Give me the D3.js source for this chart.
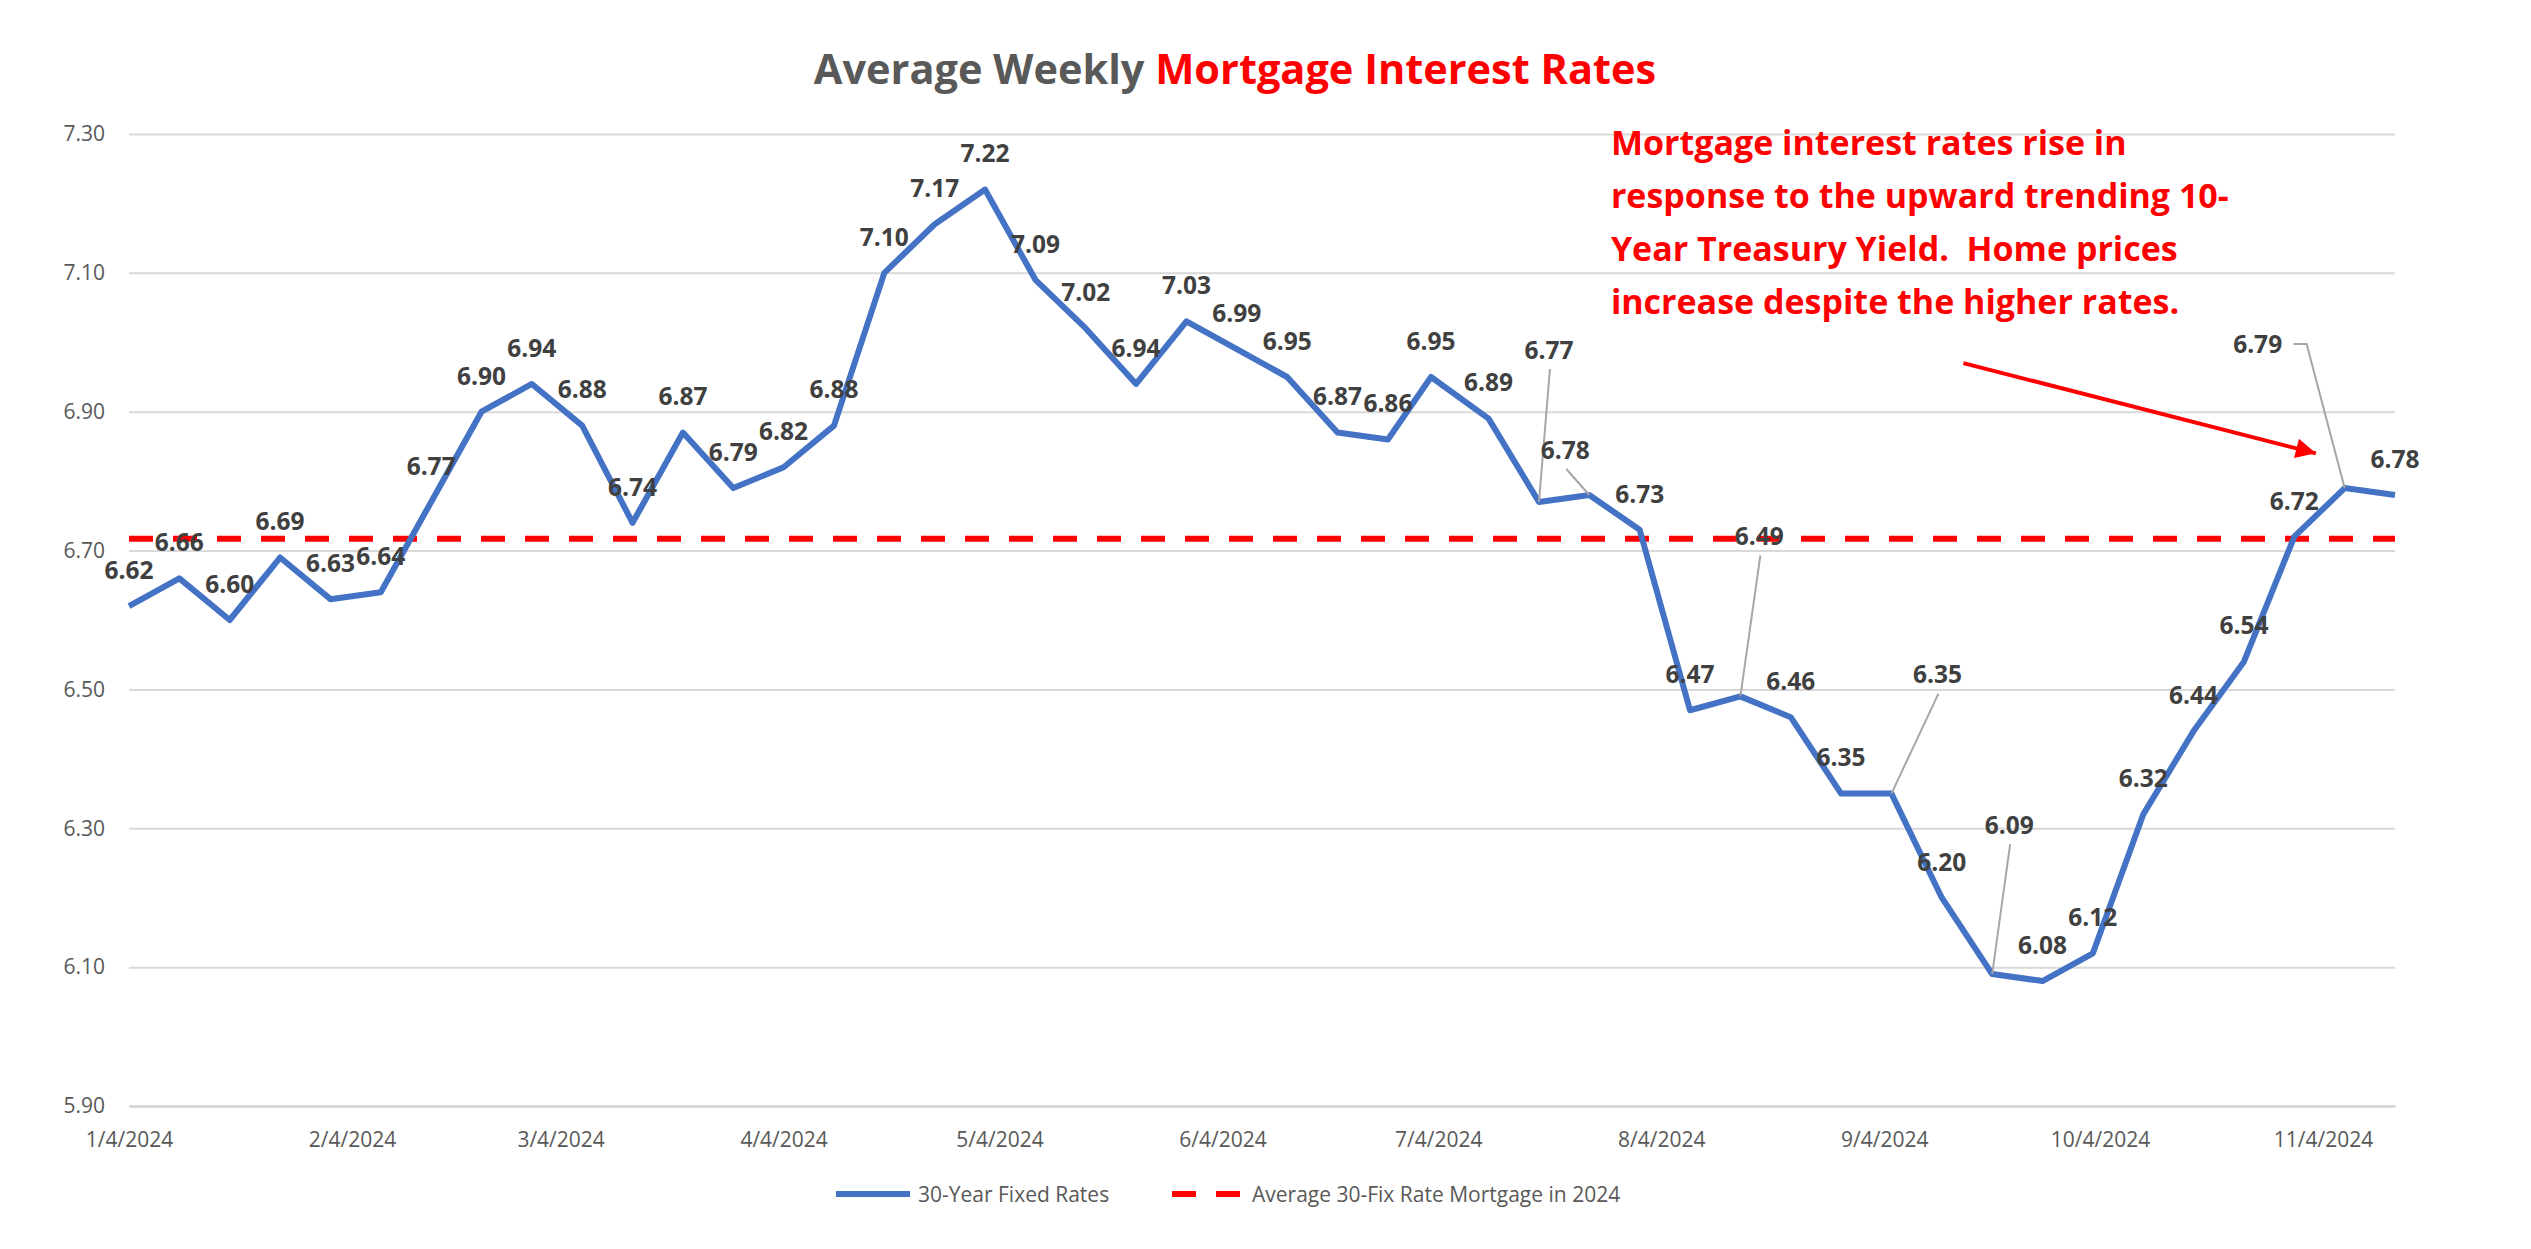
<!DOCTYPE html>
<html>
<head>
<meta charset="utf-8">
<script src="https://cdn.jsdelivr.net/npm/d3@7"></script>
<style>
  body { margin: 0; background: #fff; }
  text { font-family: "Open Sans", "Noto Sans", sans-serif; }
</style>
</head>
<body>
<script>
// weekly Freddie Mac 30-yr fixed, 2024
var weekDates = ["1/4/2024", "1/11/2024", "1/18/2024", "1/25/2024", "2/1/2024", "2/8/2024",
  "2/15/2024", "2/22/2024", "2/29/2024", "3/7/2024", "3/14/2024", "3/21/2024", "3/28/2024",
  "4/4/2024", "4/11/2024", "4/18/2024", "4/25/2024", "5/2/2024", "5/9/2024", "5/16/2024",
  "5/23/2024", "5/30/2024", "6/6/2024", "6/13/2024", "6/20/2024", "6/27/2024", "7/3/2024",
  "7/11/2024", "7/18/2024", "7/25/2024", "8/1/2024", "8/8/2024", "8/15/2024", "8/22/2024",
  "8/29/2024", "9/5/2024", "9/12/2024", "9/19/2024", "9/26/2024", "10/3/2024", "10/10/2024",
  "10/17/2024", "10/24/2024", "10/31/2024", "11/7/2024", "11/14/2024"];

var rates = [6.62, 6.66, 6.60, 6.69, 6.63, 6.64, 6.77, 6.90, 6.94, 6.88, 6.74, 6.87, 6.79,
  6.82, 6.88, 7.10, 7.17, 7.22, 7.09, 7.02, 6.94, 7.03, 6.99, 6.95, 6.87, 6.86, 6.95,
  6.89, 6.77, 6.78, 6.73, 6.47, 6.49, 6.46, 6.35, 6.35, 6.20, 6.09, 6.08, 6.12, 6.32,
  6.44, 6.54, 6.72, 6.79, 6.78];

var avgRate = 6.717;

var xTickLabels = ["1/4/2024", "2/4/2024", "3/4/2024", "4/4/2024", "5/4/2024", "6/4/2024",
  "7/4/2024", "8/4/2024", "9/4/2024", "10/4/2024", "11/4/2024"];
var yTickValues = [5.90, 6.10, 6.30, 6.50, 6.70, 6.90, 7.10, 7.30];

var seriesNames = ["30-Year Fixed Rates", "Average 30-Fix Rate Mortgage in 2024"];

var noteLines = ["Mortgage interest rates rise in",
  "response to the upward trending 10-",
  "Year Treasury Yield.  Home prices",
  "increase despite the higher rates."];

// labels that were dragged off the point in the original (pixel offsets + leader line)
var labelMoves = {
  "7/18/2024": { dx: 10, dy: -152, from: "bottom" },
  "7/25/2024": { dx: -24, dy: -45, from: "bottom" },
  "8/15/2024": { dx: 19, dy: -160, from: "bottom" },
  "9/5/2024":  { dx: 46, dy: -119, from: "bottom" },
  "9/19/2024": { dx: 17, dy: -149, from: "bottom" },
  "11/7/2024": { dx: -87, dy: -144, from: "right" }
};

var canvasWidth = 2531;
var canvasHeight = 1249;
var margin = { top: 134, right: 136, bottom: 143, left: 129 };
var width = canvasWidth - margin.left - margin.right;
var height = canvasHeight - margin.top - margin.bottom;

var parseDate = d3.utcParse("%m/%d/%Y");
var data = weekDates.map(function(d, i) { return { key: d, date: parseDate(d), rate: rates[i] }; });

var svg = d3.select("body").append("svg")
    .attr("width", canvasWidth)
    .attr("height", canvasHeight);

svg.append("rect").attr("width", canvasWidth).attr("height", canvasHeight).attr("fill", "#fff");

// title
var title = svg.append("text")
    .attr("x", 1235)
    .attr("y", 84)
    .attr("text-anchor", "middle")
    .attr("font-size", "41.5px")
    .attr("font-weight", "bold");
title.append("tspan").attr("fill", "#595959").text("Average Weekly ");
title.append("tspan").attr("fill", "#ff0000").text("Mortgage Interest Rates");

var g = svg.append("g")
    .attr("transform", "translate(" + margin.left + "," + margin.top + ")");

var xScale = d3.scaleUtc()
    .domain([data[0].date, data[data.length - 1].date])
    .range([0, width]);
var yScale = d3.scaleLinear()
    .domain([yTickValues[0], yTickValues[yTickValues.length - 1]])
    .range([height, 0]);

// y gridlines + labels
var yAxis = g.append("g")
    .call(d3.axisLeft(yScale).tickValues(yTickValues).tickFormat(d3.format(".2f"))
        .tickSize(-width).tickPadding(24));
yAxis.select(".domain").remove();
yAxis.selectAll(".tick line").attr("stroke", "#d9d9d9").attr("stroke-width", 2);
yAxis.selectAll(".tick text")
    .attr("fill", "#595959")
    .attr("font-size", "21px")
    .attr("font-family", "Open Sans, sans-serif");

// x axis
var xAxis = g.append("g")
    .attr("transform", "translate(0," + height + ")")
    .call(d3.axisBottom(xScale).tickValues(xTickLabels.map(parseDate))
        .tickFormat(d3.utcFormat("%-m/%-d/%Y")).tickSize(0).tickPadding(26));
xAxis.select(".domain").attr("stroke", "#d9d9d9").attr("stroke-width", 3);
xAxis.selectAll(".tick text")
    .attr("fill", "#595959")
    .attr("font-size", "21px")
    .attr("font-family", "Open Sans, sans-serif");

// average line
g.append("line")
    .attr("x1", 0)
    .attr("x2", width)
    .attr("y1", yScale(avgRate))
    .attr("y2", yScale(avgRate))
    .attr("stroke", "#ff0000")
    .attr("stroke-width", 6)
    .attr("stroke-dasharray", "24,20");

// rate line
var line = d3.line()
    .x(function(d) { return xScale(d.date); })
    .y(function(d) { return yScale(d.rate); });

g.append("path")
    .datum(data)
    .attr("d", line)
    .attr("fill", "none")
    .attr("stroke", "#4472c4")
    .attr("stroke-width", 6)
    .attr("stroke-linejoin", "round");

// data labels
var fmt = d3.format(".2f");
var labelG = g.append("g");
data.forEach(function(d) {
    var px = xScale(d.date), py = yScale(d.rate);
    var mv = labelMoves[d.key];
    var cx = px, cy = py - 36;
    if (mv) {
        cx = px + mv.dx;
        cy = py + mv.dy;
        var pts;
        if (mv.from === "right") {
            pts = [[cx + 36, cy], [cx + 49, cy], [px, py]];
        } else {
            pts = [[cx + 1, cy + 19], [px, py]];
        }
        labelG.append("path")
            .attr("d", d3.line()(pts))
            .attr("fill", "none")
            .attr("stroke", "#a6a6a6")
            .attr("stroke-width", 2);
    }
    labelG.append("text")
        .attr("x", cx)
        .attr("y", cy)
        .attr("dy", "0.36em")
        .attr("text-anchor", "middle")
        .attr("font-size", "24.5px")
        .attr("font-weight", "bold")
        .attr("fill", "#404040")
        .text(fmt(d.rate));
});

// annotation text + arrow
var noteX = xScale(parseDate("7/28/2024"));
var noteY = yScale(7.27);
var note = g.append("text")
    .attr("x", noteX)
    .attr("y", noteY)
    .attr("font-size", "34px")
    .attr("font-weight", "bold")
    .attr("fill", "#ff0000")
    .style("white-space", "pre");
noteLines.forEach(function(t, i) {
    note.append("tspan").attr("x", noteX).attr("dy", i === 0 ? 0 : 53).text(t);
});

svg.append("defs").append("marker")
    .attr("id", "arrowHead")
    .attr("viewBox", "0 0 10 10")
    .attr("refX", 10)
    .attr("refY", 5)
    .attr("markerWidth", 6)
    .attr("markerHeight", 5)
    .attr("markerUnits", "strokeWidth")
    .attr("orient", "auto")
    .append("path")
    .attr("d", "M0,0L10,5L0,10z")
    .attr("fill", "#ff0000");

g.append("line")
    .attr("x1", xScale(parseDate("9/15/2024")))
    .attr("y1", yScale(6.97))
    .attr("x2", xScale(parseDate("11/3/2024")))
    .attr("y2", yScale(6.84))
    .attr("stroke", "#ff0000")
    .attr("stroke-width", 4)
    .attr("marker-end", "url(#arrowHead)");

// legend
var legend = svg.append("g").attr("transform", "translate(0,1194)");
legend.append("line")
    .attr("x1", 836).attr("x2", 910)
    .attr("stroke", "#4472c4").attr("stroke-width", 6);
legend.append("text")
    .attr("x", 918).attr("dy", "0.36em")
    .attr("font-size", "21px").attr("fill", "#595959")
    .text(seriesNames[0]);
legend.append("line")
    .attr("x1", 1172).attr("x2", 1244)
    .attr("stroke", "#ff0000").attr("stroke-width", 6)
    .attr("stroke-dasharray", "24,20");
legend.append("text")
    .attr("x", 1252).attr("dy", "0.36em")
    .attr("font-size", "21px").attr("fill", "#595959")
    .text(seriesNames[1]);
</script>
</body>
</html>
